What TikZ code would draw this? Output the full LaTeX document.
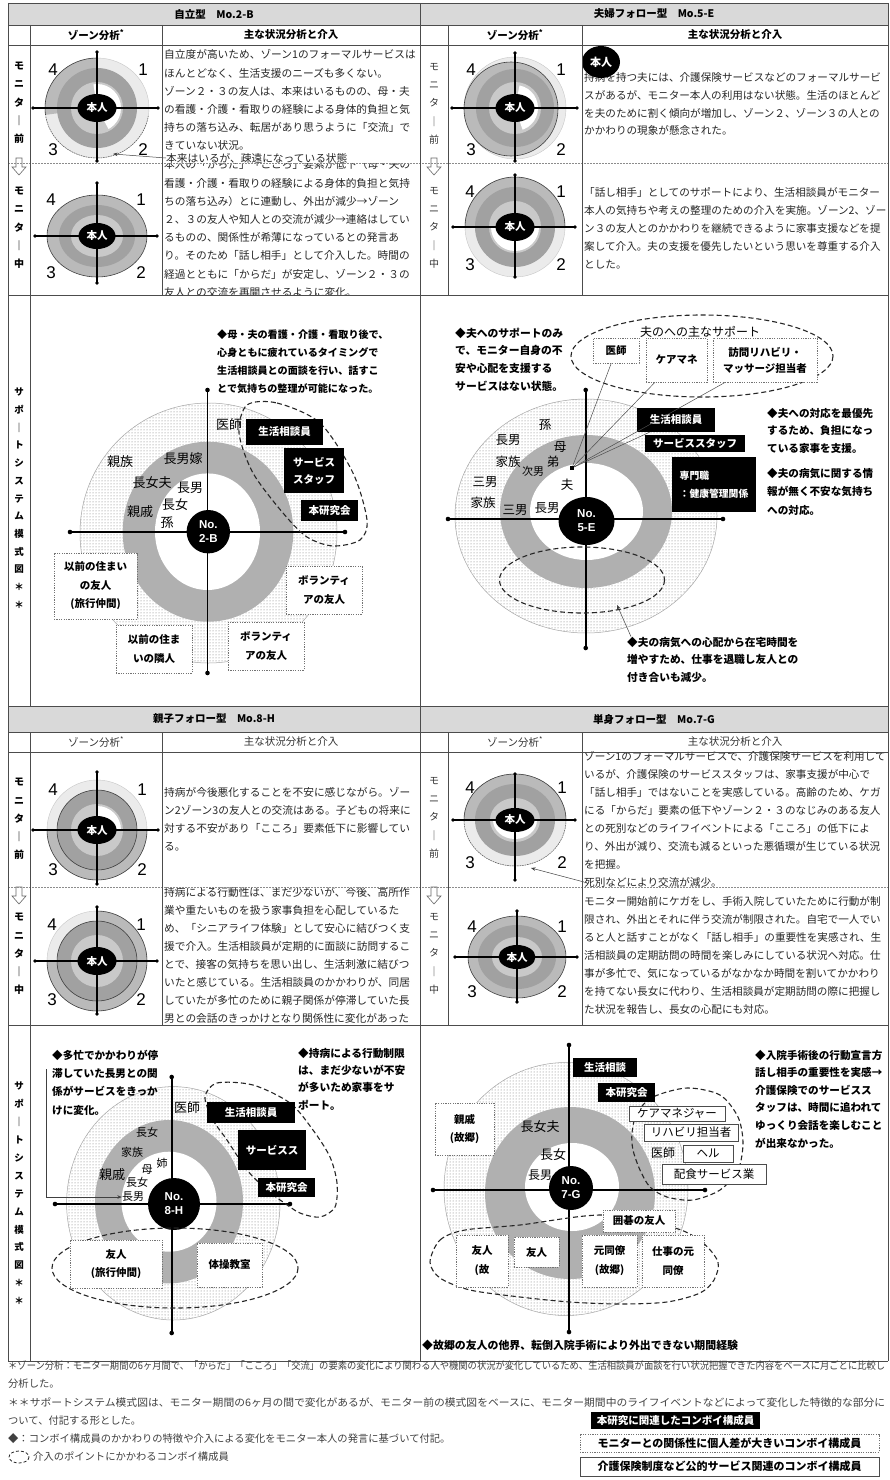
\documentclass[tikz,border=0pt]{standalone}
\usepackage{fontspec}
\setmainfont{Noto Sans CJK JP}
\newfontfamily\arialf{Liberation Sans}
\usetikzlibrary{patterns,arrows.meta,shapes.geometric}
\newcommand\fs[2]{\fontsize{#1}{#2}\selectfont}
\tikzset{
  tl/.style={draw=black!70, line width=0.8},
  tdash/.style={draw=black!45, line width=0.6, dash pattern=on 2pt off 1pt},
  hdr/.style={font=\bfseries\fs{10.5}{12}, inner sep=0},
  colhn/.style={font=\fs{10.5}{12}, text=black!80, inner sep=0},
  para/.style={anchor=north west, align=left, inner sep=0, font=\fs{10.7}{18.2}, text=black!85},
  parar/.style={anchor=north west, align=left, inner sep=0, font=\fs{10.6}{17.9}, text=black!85},
  vlab/.style={align=center, inner sep=0, font=\bfseries\fs{10}{18.3}, anchor=north},
  vlabn/.style={align=center, inner sep=0, font=\fs{10}{18.3}, anchor=north, text=black!80},
  znum/.style={font=\arialf\fs{17}{17}, inner sep=0},
  hon/.style={font=\bfseries\fs{10.5}{11}, text=white, inner sep=0},
  zaxis/.style={line width=1.3, draw=black},
  saxis/.style={line width=1.6, draw=black},
  zpale/.style={fill=black!8},
  zlight/.style={draw=black!22, line width=0.4},
  zgray/.style={fill=black!27},
  zmid/.style={fill=black!37},
  zin/.style={fill=black!21},
  zout/.style={draw=black!75, line width=0.6},
  zdash/.style={draw=black!65, line width=0.5, dash pattern=on 1.5pt off 1pt},
  dotring/.style={draw=black!35, line width=0.5, preaction={fill=white}, pattern=dots, pattern color=black!55},
  ringfill/.style={fill=black!31},
  blk/.style={fill=black, text=white, font=\bfseries\fs{10.5}{15}, align=center, inner sep=0},
  dbox/.style={fill=white, draw=black!55, line width=0.6, dash pattern=on 1.2pt off 1.2pt, font=\bfseries\fs{10.5}{18.5}, align=center, inner sep=0},
  sbox/.style={fill=white, draw=black!70, line width=0.6, font=\fs{11.5}{13}, inner sep=0},
  dloop/.style={draw=black!85, line width=1.1, dash pattern=on 5pt off 3pt},
  note/.style={anchor=north west, align=left, inner sep=0, font=\bfseries\fs{10.7}{17.8}},
  mem/.style={font=\fs{13}{13}, inner sep=0},
  mems/.style={font=\fs{11}{11}, inner sep=0},
  ctr/.style={fill=black, text=white, font=\arialf\bfseries\fs{11.5}{14}, align=center, inner sep=0},
  conn/.style={draw=black!70, line width=0.5},
  arr/.style={draw=black!75, line width=0.5, -{Stealth[length=4.5pt,width=3.5pt]}},
  foot/.style={anchor=west, inner sep=0, font=\fs{10.3}{12}, text=black!75},
}
\newcommand\zax[4]{%
  \draw[zaxis] (#1,0) -- (#2,0);
  \draw[zaxis] (0,#3) -- (0,#4);
  \fill (#1,0) circle (1.9); \fill (#2,0) circle (1.9);
  \fill (0,#3) circle (1.9); \fill (0,#4) circle (1.9);
}
\newcommand\znums[5]{%
  \node[znum] (#5a) at (#1,#3) {4};
  \node[znum] (#5b) at (#2,#3) {1};
  \node[znum] (#5c) at (#1,#4) {3};
  \node[znum] (#5d) at (#2,#4) {2};
}
\newcommand\honnin[3]{%
  \fill[black] (0,0) ellipse [x radius=#1, y radius=#2];
  \node[hon] (#3) at (0,0) {本人};
}
\begin{document}
\begin{tikzpicture}[x=1pt,y=-1pt]
\useasboundingbox (0,0) rectangle (889,1480);
\fill[white] (0,0) rectangle (889,1480);

% ---------- header fills ----------
\fill[black!15] (8,3) rectangle (888,25);
\fill[black!15] (8,706) rectangle (888,732);
\node[hdr] (h1) at (214,14) {自立型　Mo.2-B};
\node[hdr] (h2) at (654,14) {夫婦フォロー型　Mo.5-E};
\node[hdr] (h3) at (214,719) {親子フォロー型　Mo.8-H};
\node[hdr] (h4) at (654,719) {単身フォロー型　Mo.7-G};
\node[hdr] (ch1) at (96,35) {ゾーン分析\textsuperscript{*}};
\node[hdr] (ch2) at (291,35) {主な状況分析と介入};
\node[hdr] (ch3) at (515,35) {ゾーン分析\textsuperscript{*}};
\node[hdr] (ch4) at (735,35) {主な状況分析と介入};
\node[colhn] (ch5) at (96,742) {ゾーン分析\textsuperscript{*}};
\node[colhn] (ch6) at (291,742) {主な状況分析と介入};
\node[colhn] (ch7) at (515,742) {ゾーン分析\textsuperscript{*}};
\node[colhn] (ch8) at (735,742) {主な状況分析と介入};

% ---------- row labels ----------
\node[vlab] (l1) at (19,62) {モ\\ニ\\タ\\｜\\前};
\node[vlab] (l2) at (19,187) {モ\\ニ\\タ\\｜\\中};
\node[vlabn] (l3) at (434,63) {モ\\ニ\\タ\\｜\\前};
\node[vlabn] (l4) at (434,187) {モ\\ニ\\タ\\｜\\中};
\node[vlab] (l5) at (19,778) {モ\\ニ\\タ\\｜\\前};
\node[vlab] (l6) at (19,913) {モ\\ニ\\タ\\｜\\中};
\node[vlabn] (l7) at (434,777) {モ\\ニ\\タ\\｜\\前};
\node[vlabn] (l8) at (434,913) {モ\\ニ\\タ\\｜\\中};
\node[vlab, font=\bfseries\fs{9.5}{17.7}] (l9) at (19,388) {サ\\ポ\\｜\\ト\\シ\\ス\\テ\\ム\\模\\式\\図\\＊\\＊};
\node[vlab, font=\bfseries\fs{9.5}{17.9}] (l10) at (19,1082) {サ\\ポ\\｜\\ト\\シ\\ス\\テ\\ム\\模\\式\\図\\＊\\＊};
\foreach \ax/\ay in {19/158, 434/158, 19/887, 434/887}{
  \draw[black!60, line width=0.6, fill=white] (\ax-3,\ay) -- (\ax+3,\ay) -- (\ax+3,\ay+9) -- (\ax+7,\ay+9) -- (\ax,\ay+17) -- (\ax-7,\ay+9) -- (\ax-3,\ay+9) -- cycle;
}

% ---------- zone diagrams ----------
\begin{scope}[shift={(97,108)}]
 \filldraw[zpale, zlight] (0,0) ellipse [x radius=52, y radius=50];
 \begin{scope}
  \clip (0,0) -- (0,-60) -- (-60,-60) -- (-60,8) -- cycle;
  \filldraw[zgray, zout] (0,0) ellipse [x radius=52, y radius=50];
 \end{scope}
 \begin{scope}
  \clip (-60,8) rectangle (60,60);
  \draw[zdash] (0,0) ellipse [x radius=52, y radius=50];
 \end{scope}
 \fill[zmid] (0,0) circle (40);
 \fill[zin] (0,0) circle (26);
 \begin{scope}
  \clip (0,0) -- (-6,-40) -- (40,-40) -- (40,40) -- (22,40) -- cycle;
  \fill[white] (0,0) circle (24);
 \end{scope}
 \zax{-64}{61}{-56}{53}
 \honnin{19.5}{14}{hn1}
 \znums{-44}{46}{-38}{42}{za}
 \coordinate (a2b) at (16,46);
\end{scope}

\begin{scope}[shift={(97,236)}]
 \filldraw[zgray, zout] (0,0) ellipse [x radius=50, y radius=41];
 \fill[zmid] (0,0) ellipse [x radius=38, y radius=31];
 \fill[zin] (0,0) ellipse [x radius=26, y radius=21];
 \zax{-62}{60}{-53}{47}
 \honnin{18.5}{13}{hn2}
 \znums{-46}{44}{-36}{37}{zb}
\end{scope}

\begin{scope}[shift={(515,108)}]
 \filldraw[zpale, zlight] (0,0) circle (51);
 \filldraw[zgray, zout] (-4,1) circle (47);
 \fill[zmid] (0,0) circle (39);
 \fill[zin] (0,0) circle (26);
 \begin{scope}
  \clip (0,0) -- (8,-40) -- (40,-40) -- (40,40) -- (14,40) -- cycle;
  \fill[white] (0,0) circle (23);
 \end{scope}
 \zax{-63}{62}{-55}{53}
 \honnin{19.5}{14}{hn3}
 \znums{-44}{46}{-38}{42}{zc}
\end{scope}

\begin{scope}[shift={(515,227)}]
 \filldraw[zpale, zlight] (0,0) circle (50);
 \begin{scope}
  \clip (-55,-55) rectangle (55,0);
  \filldraw[zgray, zout] (0,0) circle (50);
 \end{scope}
 \draw[zout] (-50,0) -- (50,0);
 \fill[zmid] (0,0) circle (40);
 \fill[zin] (0,0) circle (26);
 \begin{scope}
  \clip (-30,0) rectangle (30,30);
  \fill[white] (0,0) circle (24);
 \end{scope}
 \zax{-62}{60}{-52}{50}
 \honnin{19.5}{14}{hn4}
 \znums{-45}{46}{-35}{38}{zd}
\end{scope}

\begin{scope}[shift={(97,830)}]
 \filldraw[zpale, zlight] (0,0) circle (50);
 \begin{scope}
  \clip (-55,0) rectangle (55,55);
  \filldraw[zgray, zout] (0,0) circle (50);
 \end{scope}
 \filldraw[zmid, zout] (0,0) circle (40);
 \fill[zin] (0,0) circle (26);
 \begin{scope}
  \clip (0,-30) rectangle (30,0);
  \fill[white] (0,0) circle (24);
 \end{scope}
 \zax{-64}{61}{-58}{54}
 \honnin{19.5}{14}{hn5}
 \znums{-44}{45}{-40}{40}{ze}
\end{scope}

\begin{scope}[shift={(97,961)}]
 \filldraw[zpale, zlight] (0,0) circle (50);
 \begin{scope}
  \clip (0,0) -- (0,-55) -- (55,-55) -- (55,55) -- (-55,55) -- (-55,0) -- cycle;
  \filldraw[zgray, zout] (0,0) circle (50);
 \end{scope}
 \filldraw[zmid, zout] (0,0) circle (40);
 \fill[zin] (0,0) circle (26);
 \zax{-62}{60}{-54}{53}
 \honnin{19.5}{14}{hn6}
 \znums{-45}{44}{-36}{39}{zf}
\end{scope}

\begin{scope}[shift={(515,820)}]
 \filldraw[zpale, zlight] (0,0) ellipse [x radius=51, y radius=46];
 \begin{scope}
  \clip (-56,0) rectangle (56,50);
  \draw[zdash] (0,0) ellipse [x radius=51, y radius=46];
 \end{scope}
 \begin{scope}
  \clip (-56,-50) rectangle (56,0);
  \filldraw[zgray, zout] (0,0) ellipse [x radius=51, y radius=46];
 \end{scope}
 \fill[zmid] (0,0) ellipse [x radius=40, y radius=36];
 \fill[zin] (0,0) ellipse [x radius=25, y radius=22];
 \begin{scope}
  \clip (-30,0) rectangle (30,30);
  \fill[white] (0,0) ellipse [x radius=22, y radius=19];
 \end{scope}
 \zax{-62}{60}{-46}{60}
 \honnin{19.5}{12}{hn7}
 \znums{-45}{47}{-32}{43}{zg}
 \coordinate (a7g) at (16,48);
\end{scope}

\begin{scope}[shift={(517,957)}]
 \filldraw[zgray, zout] (0,0) ellipse [x radius=49, y radius=41];
 \fill[zmid] (0,0) ellipse [x radius=39, y radius=32];
 \fill[zin] (0,0) ellipse [x radius=25, y radius=20];
 \zax{-62}{60}{-46}{45}
 \honnin{18.5}{12}{hn8}
 \znums{-45}{45}{-30}{35}{zh}
\end{scope}

% ---------- table texts ----------
\node[para] (p2b1) at (164,49.6) {自立度が高いため、ゾーン1のフォーマルサービスは\\ほんとどなく、生活支援のニーズも多くない。\\ゾーン２・３の友人は、本来はいるものの、母・夫\\の看護・介護・看取りの経験による身体的負担と気\\持ちの落ち込み、転居があり思うように「交流」で\\きていない状況。};
\node[para, anchor=west] (lab2b) at (166,158) {本来はいるが、疎遠になっている状態};
\draw[arr] (lab2b.west) -- (a2b);
\begin{scope}
 \clip (162,163) rectangle (420,295);
 \node[para] (p2b2) at (164,159.6) {本人の「からだ」「こころ」要素が低下（母・夫の\\看護・介護・看取りの経験による身体的負担と気持\\ちの落ち込み）とに連動し、外出が減少→ゾーン\\２、３の友人や知人との交流が減少→連絡はしてい\\るものの、関係性が希薄になっているとの発言あ\\り。そのため「話し相手」として介入した。時間の\\経過とともに「からだ」が安定し、ゾーン２・３の\\友人との交流を再開させるように変化。};
\end{scope}

\node[parar, font=\fs{10.6}{17.7}] (p5e1) at (584,72.6) {持病を持つ夫には、介護保険サービスなどのフォーマルサービ\\スがあるが、モニター本人の利用はない状態。生活のほとんど\\を夫のために割く傾向が増加し、ゾーン２、ゾーン３の人との\\かかわりの現象が懸念された。};
\fill[black] (601,62) ellipse [x radius=19, y radius=16];
\node[hon, font=\bfseries\fs{11}{11}] (hn9) at (601,62) {本人};
\node[parar, font=\fs{10.6}{18}] (p5e2) at (584,187.6) {「話し相手」としてのサポートにより、生活相談員がモニター\\本人の気持ちや考えの整理のための介入を実施。ゾーン2、ゾー\\ン３の友人とのかかわりを継続できるように家事支援などを提\\案して介入。夫の支援を優先したいという思いを尊重する介入\\とした。};

\node[para, font=\fs{10.7}{18}] (p8h1) at (164,787.6) {持病が今後悪化することを不安に感じながら。ゾー\\ン2ゾーン3の友人との交流はある。子どもの将来に\\対する不安があり「こころ」要素低下に影響してい\\る。};
\begin{scope}
 \clip (162,887) rectangle (420,1025);
 \node[para, font=\fs{10.7}{17.9}] (p8h2) at (164,887.6) {持病による行動性は、まだ少ないが、今後、高所作\\業や重たいものを扱う家事負担を心配しているた\\め、「シニアライフ体験」として安心に結びつく支\\援で介入。生活相談員が定期的に面談に訪問するこ\\とで、接客の気持ちを思い出し、生活刺激に結びつ\\いたと感じている。生活相談員のかかわりが、同居\\していたが多忙のために親子関係が停滞していた長\\男との会話のきっかけとなり関係性に変化があった};
\end{scope}

\node[parar] (p7g1) at (584,751.6) {ゾーン1のフォーマルサービスで、介護保険サービスを利用して\\いるが、介護保険のサービススタッフは、家事支援が中心で\\「話し相手」ではないことを実感している。高齢のため、ケガ\\にる「からだ」要素の低下やゾーン２・３のなじみのある友人\\との死別などのライフイベントによる「こころ」の低下によ\\り、外出が減り、交流も減るといった悪循環が生じている状況\\を把握。};
\node[parar, anchor=west] (lab7g) at (584,882) {死別などにより交流が減少。};
\draw[arr] (lab7g.west) -- (a7g);
\node[parar, font=\fs{10.6}{18}] (p7g2) at (584,896.6) {モニター開始前にケガをし、手術入院していたために行動が制\\限され、外出とそれに伴う交流が制限された。自宅で一人でい\\ると人と話すことがなく「話し相手」の重要性を実感され、生\\活相談員の定期訪問の時間を楽しみにしている状況へ対応。仕\\事が多忙で、気になっているがなかなか時間を割いてかかわり\\を持てない長女に代わり、生活相談員が定期訪問の際に把握し\\た状況を報告し、長女の心配にも対応。};

% ---------- support 2-B ----------
\draw[dotring] (208.5,533) ellipse [x radius=128.5, y radius=130];
\fill[ringfill] (208,531.7) ellipse [x radius=85.3, y radius=90];
\fill[white] (207.5,531.7) ellipse [x radius=52.5, y radius=58.3];
\node[mem] (b1) at (229,425) {医師};
\node[mem] (b2) at (120,462) {親族};
\node[mem] (b3) at (183,459) {長男嫁};
\node[mem] (b4) at (152,483) {長女夫};
\node[mem] (b5) at (190,488) {長男};
\node[mem] (b6) at (175,505) {長女};
\node[mem] (b7) at (140,512) {親戚};
\node[mem] (b8) at (167,523) {孫};
\draw[saxis] (70,532) -- (345,532);
\draw[saxis] (207.5,390) -- (207.5,673);
\fill (70,532) circle (2.3); \fill (345,532) circle (2.3); \fill (207.5,390) circle (2.3); \fill (207.5,673) circle (2.3);
\node[ctr, circle, minimum size=43.4] (c2b) at (208.3,531.7) {No.\\2-B};
\draw[dloop] plot[smooth cycle] coordinates {(247,405) (277,403) (320,423) (353,473) (367,520) (360,540) (333,546) (307,537) (283,513) (253,473) (239,433)};
\node[blk, minimum width=77, minimum height=26] (b9) at (284.5,432) {生活相談員};
\node[blk, minimum width=60, minimum height=45, font=\bfseries\fs{10.5}{17}] (b10) at (314,470.5) {サービス\\スタッフ};
\node[blk, minimum width=57, minimum height=21] (b11) at (329.5,510.5) {本研究会};
\node[dbox, minimum width=83, minimum height=66] (b12) at (95.5,586) {以前の住まい\\の友人\\(旅行仲間)};
\node[dbox, minimum width=76, minimum height=48] (b13) at (154,649) {以前の住ま\\いの隣人};
\node[dbox, minimum width=76, minimum height=48] (b14) at (324,590) {ボランティ\\アの友人};
\node[dbox, minimum width=76, minimum height=48] (b15) at (266,646) {ボランティ\\アの友人};
\node[note, font=\bfseries\fs{10.1}{18}] (b16) at (217,330) {◆母・夫の看護・介護・看取り後で、\\心身ともに疲れているタイミングで\\生活相談員との面談を行い、話すこ\\とで気持ちの整理が可能になった。};

% ---------- support 5-E ----------
\draw[dotring] (586,516) ellipse [x radius=131, y radius=117];
\fill[ringfill] (586,511.5) ellipse [x radius=86, y radius=76.5];
\fill[white] (586.5,511.5) ellipse [x radius=56.5, y radius=48.5];
\node[mem, font=\fs{12.5}{12.5}] (e1) at (545,425) {孫};
\node[mem, font=\fs{12.5}{12.5}] (e2) at (508,440) {長男};
\node[mem, font=\fs{12.5}{12.5}] (e3) at (560,447) {母};
\node[mem, font=\fs{12.5}{12.5}] (e4) at (508,462) {家族};
\node[mem, font=\fs{12.5}{12.5}] (e5) at (553,462) {弟};
\node[mems] (e6) at (533,471) {次男};
\node[mem, font=\fs{12.5}{12.5}] (e7) at (485,482) {三男};
\node[mem, font=\fs{12.5}{12.5}] (e8) at (567,485) {夫};
\node[mem, font=\fs{12.5}{12.5}] (e9) at (483,503) {家族};
\node[mem, font=\fs{12.5}{12.5}] (e10) at (515,510) {三男};
\node[mem, font=\fs{12.5}{12.5}] (e11) at (547,508) {長男};
\draw[saxis] (448,519) -- (723,519);
\draw[saxis] (585.7,390) -- (585.7,648);
\fill (448,519) circle (2.3); \fill (723,519) circle (2.3); \fill (585.7,390) circle (2.3); \fill (585.7,648) circle (2.3);
\node[ctr, ellipse, minimum width=56, minimum height=48] (c5e) at (586.5,521) {No.\\5-E};
\draw[dloop] (582,580) ellipse [x radius=82.5, y radius=33];
\draw[dloop] (702,356) ellipse [x radius=131, y radius=41];
\node[inner sep=0, font=\fs{12}{12}] (e12) at (700,332) {夫のへの主なサポート};
\node[dbox, minimum width=46, minimum height=25] (e13) at (616,350.5) {医師};
\node[dbox, minimum width=61, minimum height=44] (e14) at (676.5,360) {ケアマネ};
\node[dbox, minimum width=104, minimum height=44, font=\bfseries\fs{10.5}{16}] (e15) at (765,360) {訪問リハビリ・\\マッサージ担当者};
\node[blk, minimum width=78, minimum height=24] (e16) at (676,420) {生活相談員};
\node[blk, minimum width=100, minimum height=17] (e17) at (695,443.5) {サービススタッフ};
\node[blk, anchor=west, align=left, minimum height=55, inner xsep=7.5, font=\bfseries\fs{9.8}{18}] (e18) at (672,484.5) {専門職\\：健康管理関係};
\node[fill=black, minimum size=4, inner sep=0] (sq5) at (572,468) {};
\draw[conn] (e13) -- (sq5);
\draw[conn] (e14) -- (sq5);
\draw[conn] (e15) -- (sq5);
\draw[conn] (e16) -- (sq5);
\node[note, font=\bfseries\fs{10.8}{17.7}] (e19) at (455,327.6) {◆夫へのサポートのみ\\で、モニター自身の不\\安や心配を支援する\\サービスはない状態。};
\node[note, font=\bfseries\fs{10.6}{17.5}] (e20) at (767,407.6) {◆夫への対応を最優先\\するため、負担になっ\\ている家事を支援。};
\node[note, font=\bfseries\fs{10.6}{18.5}] (e21) at (767,467.6) {◆夫の病気に関する情\\報が無く不安な気持ち\\への対応。};
\node[note, font=\bfseries\fs{10.7}{17.5}] (e22) at (627,636.6) {◆夫の病気への心配から在宅時間を\\増やすため、仕事を退職し友人との\\付き合いも減少。};
\coordinate (e23) at (617,605);
\draw[arr] ([xshift=4pt]e22.north west) -- (e23);

% ---------- support 8-H ----------
\draw[dotring] (173.3,1203.3) ellipse [x radius=106.7, y radius=116.7];
\fill[ringfill] (169,1201.7) ellipse [x radius=74, y radius=81.7];
\fill[white] (169,1201.7) ellipse [x radius=47.5, y radius=50];
\node[mem] (f1) at (187,1108) {医師};
\node[mems] (f2) at (147,1132) {長女};
\node[mems] (f3) at (132,1152) {家族};
\node[mems] (f4) at (162,1163) {姉};
\node[mems] (f5) at (147,1170) {母};
\node[mem] (f6) at (112,1175) {親戚};
\node[mems] (f7) at (137,1182) {長女};
\node[mems] (f8) at (133,1197) {長男};
\draw[saxis] (55,1204) -- (290,1204);
\draw[saxis] (171.7,1077) -- (171.7,1333);
\fill (55,1204) circle (2.3); \fill (290,1204) circle (2.3); \fill (171.7,1077) circle (2.3); \fill (171.7,1333) circle (2.3);
\node[ctr, circle, minimum size=52] (c8h) at (174,1204) {No.\\8-H};
\draw[dloop] plot[smooth cycle] coordinates {(205,1097) (217,1083) (253,1085) (290,1103) (313,1130) (330,1157) (337,1183) (335,1207) (320,1217) (300,1213) (283,1202) (267,1190) (247,1170) (227,1140) (213,1120)};
\draw[dloop] (175,1268) ellipse [x radius=123, y radius=40];
\node[blk, minimum width=88, minimum height=21] (f9) at (251,1112.5) {生活相談員};
\node[blk, minimum width=68, minimum height=40] (f10) at (272,1150) {サービスス};
\node[blk, minimum width=57, minimum height=19] (f11) at (286.5,1187.5) {本研究会};
\node[dbox, minimum width=92, minimum height=48, font=\bfseries\fs{10.5}{18}] (f12) at (116,1264) {友人\\(旅行仲間)};
\node[dbox, minimum width=65, minimum height=44] (f13) at (229.5,1265) {体操教室};
\node[note, font=\bfseries\fs{10.6}{18.3}] (f14) at (52,1049.6) {◆多忙でかかわりが停\\滞していた長男との関\\係がサービスをきっか\\けに変化。};
\node[note, font=\bfseries\fs{10.7}{17.3}] (f15) at (298,1047.6) {◆持病による行動制限\\は、まだ少ないが不安\\が多いため家事をサ\\ポート。};
\coordinate (f16) at (46,1069);
\draw[arr] (f16) |- (f8.west);

% ---------- support 7-G ----------
\draw[dotring] (566,1189) ellipse [x radius=122, y radius=126.5];
\fill[ringfill] (570,1193) ellipse [x radius=85, y radius=86];
\fill[white] (572,1187) ellipse [x radius=47, y radius=44];
\node[mem] (g1) at (540,1127) {長女夫};
\node[mem] (g2) at (553,1155) {長女};
\node[mem, font=\fs{12}{12}] (g3) at (663,1153) {医師};
\node[mem, font=\fs{12}{12}] (g4) at (540,1175) {長男};
\draw[saxis] (433,1190) -- (705,1190);
\draw[saxis] (569,1045) -- (569,1332);
\fill (433,1190) circle (2.3); \fill (705,1190) circle (2.3); \fill (569,1045) circle (2.3); \fill (569,1332) circle (2.3);
\node[ctr, circle, minimum size=44] (c7g) at (571,1188) {No.\\7-G};
\draw[dloop] plot[smooth cycle] coordinates {(632,1133) (637,1113) (653,1097) (687,1088) (720,1095) (738,1117) (743,1143) (738,1170) (720,1190) (693,1200) (667,1197) (650,1187) (640,1170) (633,1150)};
\draw[dloop] plot[smooth cycle] coordinates {(430,1262) (440,1240) (465,1230) (520,1225) (603,1215) (675,1228) (703,1243) (718,1262) (714,1280) (700,1293) (667,1302) (620,1304) (570,1302) (520,1297) (470,1290) (440,1278)};
\node[blk, minimum width=64, minimum height=19] (g5) at (605,1067.5) {生活相談};
\node[blk, minimum width=57, minimum height=19] (g6) at (626.5,1092.5) {本研究会};
\node[sbox, minimum width=96, minimum height=15] (g7) at (677,1113.5) {ケアマネジャー};
\node[sbox, minimum width=94, minimum height=17] (g8) at (691,1132.5) {リハビリ担当者};
\node[sbox, minimum width=50, minimum height=17] (g9) at (708,1153.5) {ヘル};
\node[sbox, minimum width=104, minimum height=20] (g10) at (714,1174) {配食サービス業};
\node[dbox, minimum width=59, minimum height=52, font=\bfseries\fs{10.5}{18}] (g11) at (464.5,1129) {親戚\\(故郷)};
\node[dbox, minimum width=72, minimum height=22] (g12) at (639,1221) {囲碁の友人};
\node[dbox, minimum width=52, minimum height=52, font=\bfseries\fs{10.5}{19}] (g13) at (482,1261) {友人\\(故};
\node[dbox, minimum width=45, minimum height=30] (g14) at (536.5,1252) {友人};
\node[dbox, minimum width=55, minimum height=52, font=\bfseries\fs{10.5}{19}] (g15) at (609.5,1261) {元同僚\\(故郷)};
\node[dbox, minimum width=62, minimum height=52, font=\bfseries\fs{10.5}{19}] (g16) at (673,1261) {仕事の元\\同僚};
\node[note, font=\bfseries\fs{10.6}{17.6}] (g17) at (755,1049.6) {◆入院手術後の行動宣言方\\話し相手の重要性を実感→\\介護保険でのサービスス\\タッフは、時間に追われて\\ゆっくり会話を楽しむこと\\が出来なかった。};
\node[note, anchor=west, font=\bfseries\fs{10.9}{12}] (g18) at (422,1345) {◆故郷の友人の他界、転倒入院手術により外出できない期間経験};

% ---------- table lines ----------
\foreach \yy in {3,25,45,295,706,732,752,1025,1361}{ \draw[tl] (8,\yy) -- (888,\yy); }
\draw[tdash] (8,163) -- (888,163);
\draw[tdash] (8,887) -- (888,887);
\draw[tl] (8,3) -- (8,1361);
\draw[tl] (888,3) -- (888,1361);
\draw[tl] (420,3) -- (420,1361);
\draw[tl] (30,25) -- (30,706);  \draw[tl] (30,732) -- (30,1361);
\draw[tl] (162,25) -- (162,295); \draw[tl] (162,732) -- (162,1025);
\draw[tl] (448,25) -- (448,295); \draw[tl] (448,732) -- (448,1025);
\draw[tl] (582,25) -- (582,295); \draw[tl] (582,732) -- (582,1025);

% ---------- footer ----------
\node[foot] (n1) at (8,1366) {\resizebox{877pt}{\height}{＊ゾーン分析：モニター期間の6ヶ月間で、「からだ」「こころ」「交流」の要素の変化により関わる人や機関の状況が変化しているため、生活相談員が面談を行い状況把握できた内容をベースに月ごとに比較し}};
\node[foot] (n2) at (8,1384) {分析した。};
\node[foot] (n3) at (8,1403) {\resizebox{877pt}{\height}{＊＊サポートシステム模式図は、モニター期間の6ヶ月の間で変化があるが、モニター前の模式図をベースに、モニター期間中のライフイベントなどによって変化した特徴的な部分に}};
\node[foot] (n4) at (8,1421) {ついて、付記する形とした。};
\node[foot] (n5) at (8,1439) {◆：コンボイ構成員のかかわりの特徴や介入による変化をモニター本人の発言に基づいて付記。};
\draw[dloop, line width=0.8, dash pattern=on 3pt off 2pt] (19,1457) ellipse [x radius=10, y radius=6];
\node[foot] (n6) at (33,1457) {介入のポイントにかかわるコンボイ構成員};
\node[blk, minimum width=169, minimum height=17, font=\bfseries\fs{10.5}{12}] (lg1) at (675.5,1420) {本研究に関連したコンボイ構成員};
\node[dbox, minimum width=299, minimum height=18, font=\bfseries\fs{11}{12}] (lg2) at (729.5,1443) {モニターとの関係性に個人差が大きいコンボイ構成員};
\node[sbox, minimum width=299, minimum height=19, font=\bfseries\fs{11}{12}] (lg3) at (729.5,1466.5) {介護保険制度など公的サービス関連のコンボイ構成員};
\end{tikzpicture}
\end{document}
